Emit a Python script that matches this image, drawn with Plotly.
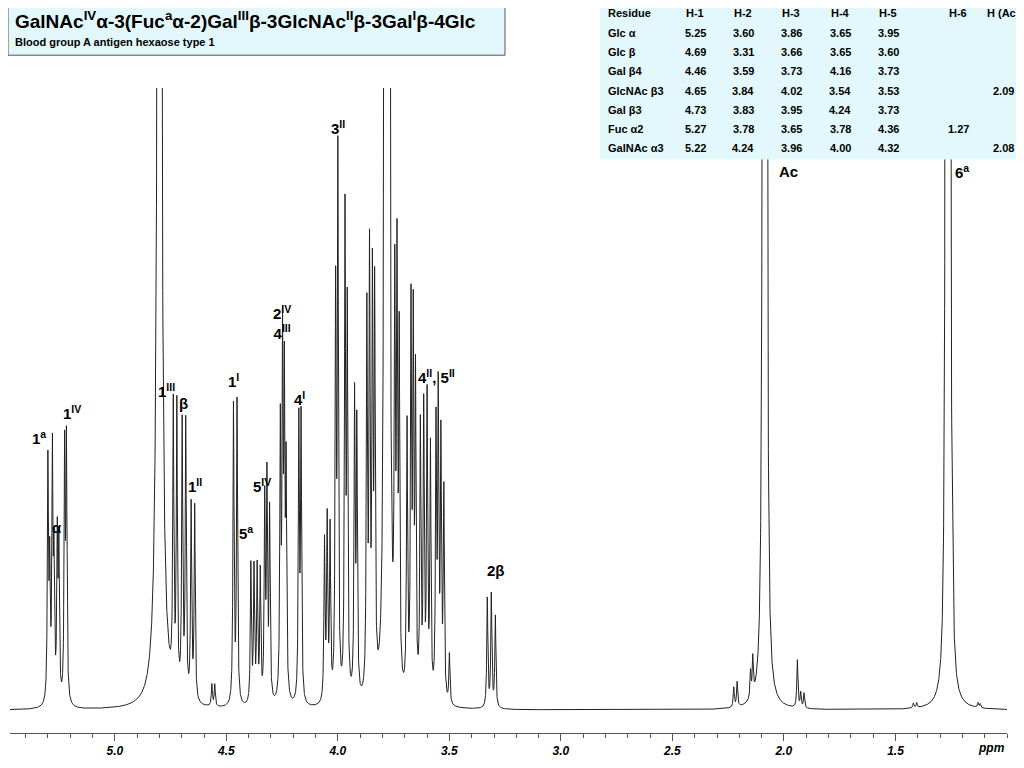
import numpy as np
import plotly.graph_objects as go

# peak list (ppm, height above baseline in screen px; >1000 = clipped)
peak_ppm = [5.300, 5.292, 5.280, 5.273, 5.258, 5.251, 5.225, 5.217,
            4.80, 4.738, 4.722, 4.698, 4.682, 4.658, 4.642, 4.565, 4.552,
            4.468, 4.452, 4.390, 4.376, 4.362, 4.348, 4.328, 4.318, 4.306,
            4.258, 4.248, 4.240, 4.232, 4.175, 4.165,
            4.060, 4.048, 4.035, 4.010, 4.000, 3.968, 3.958, 3.925, 3.915,
            3.870, 3.858, 3.845, 3.835, 3.790, 3.780, 3.770,
            3.745, 3.735, 3.725, 3.690, 3.672, 3.662, 3.652, 3.630, 3.615, 3.600, 3.585,
            3.560, 3.550, 3.538, 3.525, 3.500,
            3.330, 3.312, 3.294,
            2.225, 2.210, 2.150, 2.140, 2.092, 2.080,
            1.940, 1.925, 1.910, 1.420, 1.405, 1.272, 1.258, 1.245, 1.130, 1.120]
peak_height = [240, 130, 245, 130, 160, 150, 250, 255,
               3000, 280, 285, 272, 276, 195, 195, 22, 22,
               300, 305, 140, 135, 135, 130, 200, 220, 190,
               270, 345, 300, 220, 280, 282,
               160, 180, 170, 400, 540, 480, 380, 300, 270,
               380, 430, 400, 390, 2000, 2500, 2000,
               380, 410, 340, 270, 380, 360, 310, 270, 290, 300, 250,
               270, 300, 260, 210, 50,
               110, 114, 92,
               20, 25, 27, 38, 3000, 3000,
               48, 15, 15, 5, 5, 3000, 3000, 75, 5, 4]
peak_width = 0.0028

ppm = np.linspace(5.47, 1.0, 9000)
intensity = np.zeros_like(ppm)
for p0, h in zip(peak_ppm, peak_height):
    w = 0.006 if h > 2900 and p0 > 4.7 else peak_width
    intensity += h * w**2 / ((ppm - p0)**2 + w**2)

# assignment labels (ppm, height of label centre, text)
label_ppm = [5.34, 5.26, 5.19, 4.77, 4.69, 4.64, 4.47, 4.41, 4.34, 4.25, 4.17, 4.00, 3.56, 3.29, 1.98, 1.20]
label_y = [274, 184, 299, 322, 309, 226, 332, 179, 226, 390, 314, 586, 336, 141, 542, 542]
label_text = ["1<sup>a</sup>", "α", "1<sup>IV</sup>", "1<sup>III</sup>", "β", "1<sup>II</sup>",
              "1<sup>I</sup>", "5<sup>a</sup>", "5<sup>IV</sup>", "2<sup>IV</sup><br>4<sup>III</sup>",
              "4<sup>I</sup>", "3<sup>II</sup>", "4<sup>II</sup>, 5<sup>II</sup>", "2β", "Ac", "6<sup>a</sup>"]

# shift table
residues = ["Glc α", "Glc β", "Gal β4", "GlcNAc β3", "Gal β3", "Fuc α2", "GalNAc α3"]
h1 = ["5.25", "4.69", "4.46", "4.65", "4.73", "5.27", "5.22"]
h2 = ["3.60", "3.31", "3.59", "3.84", "3.83", "3.78", "4.24"]
h3 = ["3.86", "3.66", "3.73", "4.02", "3.95", "3.65", "3.96"]
h4 = ["3.65", "3.65", "4.16", "3.54", "4.24", "3.78", "4.00"]
h5 = ["3.95", "3.60", "3.73", "3.53", "3.73", "4.36", "4.32"]
h6 = ["", "", "", "", "", "1.27", ""]
hac = ["", "", "", "2.09", "", "", "2.08"]
headers = ["Residue", "H-1", "H-2", "H-3", "H-4", "H-5", "H-6", "H (Ac)"]

fig = go.Figure()
fig.add_trace(go.Scatter(x=ppm, y=intensity, mode="lines",
                         line=dict(color="#222222", width=1), hoverinfo="skip"))

for x, y, t in zip(label_ppm, label_y, label_text):
    fig.add_annotation(x=x, y=y, text="<b>" + t + "</b>", showarrow=False, yanchor="middle",
                       font=dict(family="Liberation Sans", size=15, color="black"))


def px(x):
    return (x - 10) / 997


def py(y):
    return (737 - y) / 649


# table background + text
fig.add_shape(type="rect", xref="paper", yref="paper", x0=px(600), x1=px(1024), y0=py(160), y1=py(0),
              fillcolor="#E3F8FC", line_width=0, layer="above")
cols = [residues, h1, h2, h3, h4, h5, h6, hac]
col_x = [606, 695, 743, 791, 840, 888, 958, 1003]
for ci, (cx, head, col) in enumerate(zip(col_x, headers, cols)):
    anchor = "left" if ci == 0 else "center"
    for ri, txt in enumerate([head] + col):
        if txt:
            fig.add_annotation(xref="paper", yref="paper", x=px(cx), y=py(13 + ri * 19.4),
                               text="<b>" + txt + "</b>", showarrow=False, xanchor=anchor,
                               yanchor="middle",
                               font=dict(family="Liberation Sans", size=11, color="black"))

# title box
fig.add_shape(type="rect", xref="paper", yref="paper", x0=px(8), x1=px(505), y0=py(55), y1=py(3),
              fillcolor="#E3F8FC", line=dict(color="#555555", width=1), layer="above")
fig.add_annotation(xref="paper", yref="paper", x=px(13), y=py(20), xanchor="left", yanchor="middle",
                   showarrow=False,
                   text="<b>GalNAc<sup>IV</sup>α-3(Fuc<sup>a</sup>α-2)Gal<sup>III</sup>β-3GlcNAc<sup>II</sup>β-3Gal<sup>I</sup>β-4Glc</b>",
                   font=dict(family="Liberation Sans", size=19, color="black"))
fig.add_annotation(xref="paper", yref="paper", x=px(13), y=py(42), xanchor="left", yanchor="middle",
                   showarrow=False, text="<b>Blood group A antigen hexaose type 1</b>",
                   font=dict(family="Liberation Sans", size=11, color="black"))
fig.add_annotation(xref="paper", yref="paper", x=1.0, y=py(752), xanchor="right", yanchor="middle",
                   showarrow=False, text="<i><b>ppm</b></i>",
                   font=dict(family="Liberation Sans", size=12, color="black"))

ticks = [5.0, 4.5, 4.0, 3.5, 3.0, 2.5, 2.0, 1.5]
fig.update_xaxes(range=[5.47, 1.0], tickvals=ticks,
                 ticktext=["<i><b>%.1f</b></i>" % v for v in ticks],
                 minor=dict(dtick=0.1, ticks="outside", ticklen=4, tickcolor="#555"),
                 ticks="outside", ticklen=7, tickcolor="#555", showline=True, linecolor="#555",
                 showgrid=False, zeroline=False,
                 tickfont=dict(family="Liberation Sans", size=12, color="black"))
fig.update_yaxes(range=[-23, 626], visible=False)
# page body adds an 8 px offset, so the figure is 8 px smaller than the window
fig.update_layout(width=1008, height=752, margin=dict(l=2, r=9, t=80, b=23),
                  plot_bgcolor="white", paper_bgcolor="white", showlegend=False)
fig.write_html("out.html")
